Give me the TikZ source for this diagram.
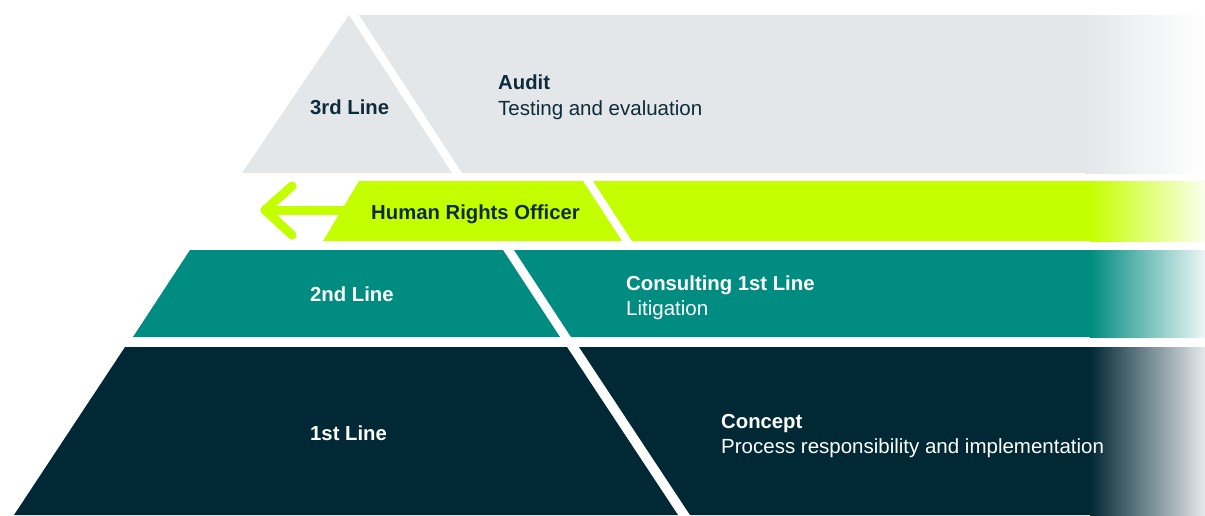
\documentclass[tikz,border=0pt]{standalone}
\usepackage{fontspec}
\setmainfont{Liberation Sans}
\usetikzlibrary{positioning,calc}

\definecolor{greyfill}{HTML}{E4E7EA}
\definecolor{limefill}{HTML}{C4FF00}
\definecolor{tealfill}{HTML}{008C80}
\definecolor{navyfill}{HTML}{012835}
\definecolor{ink}{HTML}{0F2B3A}

\tikzset{
  head/.style={inner sep=0pt,anchor=base west,font=\fontsize{20.3}{22}\selectfont\bfseries},
  body/.style={inner sep=0pt,anchor=base west,font=\fontsize{20.5}{22}\selectfont},
  fadeout/.style={left color=#1,right color=#1!7!white},
  arrowline/.style={limefill,line width=9pt,line cap=round,line join=round}
}

\begin{document}
\begin{tikzpicture}[x=1pt,y=-1pt]
\useasboundingbox (0,0) rectangle (1205,515);

% 3rd line
\fill[greyfill] (349,15) -- (452,173) -- (242,173) -- cycle;
\fill[greyfill] (359,15) -- (1086,15) -- (1086,173) -- (462,173) -- cycle;
\shade[fadeout=greyfill,right color=white] (1085,15) rectangle (1205,173);

% human rights officer
\fill[limefill] (359,181) -- (583,181) -- (622,241) -- (323,241) -- cycle;
\fill[limefill] (593,181) -- (1091,181) -- (1091,241) -- (632,241) -- cycle;
\shade[fadeout=limefill] (1090,181) rectangle (1205,241);

\coordinate (boxedge) at (350,210);
\coordinate (tip) at (265,210);
\coordinate (armup) at (292,186);
\coordinate (armdown) at (292,235);
\draw[arrowline] (boxedge) -- (tip);
\draw[arrowline] (armup) -- (tip) -- (armdown);

% 2nd line
\fill[tealfill] (190,250) -- (503,250) -- (560,337) -- (133,337) -- cycle;
\fill[tealfill] (514,250) -- (1091,250) -- (1091,337) -- (571,337) -- cycle;
\shade[fadeout=tealfill] (1090,250) rectangle (1205,337);

% 1st line
\fill[navyfill] (125,347) -- (567,347) -- (678,515) -- (14,515) -- cycle;
\fill[navyfill] (579,347) -- (1091,347) -- (1091,515) -- (690,515) -- cycle;
\shade[fadeout=navyfill,right color=navyfill!10!white] (1090,347) rectangle (1205,515);

% labels
\node[head,text=ink] (third) at (310,114) {3rd Line};
\node[head,text=ink] (audit) at (498,89) {Audit};
\node[body,text=ink] (testing) at (498,115) {Testing and evaluation};
\node[head,text=ink] (officer) at (371,219) {Human Rights Officer};
\node[head,text=white] (second) at (310,301) {2nd Line};
\node[head,text=white] (consult) at (626,290) {Consulting 1st Line};
\node[body,text=white] (litig) at (626,315) {Litigation};
\node[head,text=white] (first) at (310,440) {1st Line};
\node[head,text=white] (concept) at (721,428) {Concept};
\node[body,text=white] (process) at (721,453) {Process responsibility and implementation};
\end{tikzpicture}
\end{document}
